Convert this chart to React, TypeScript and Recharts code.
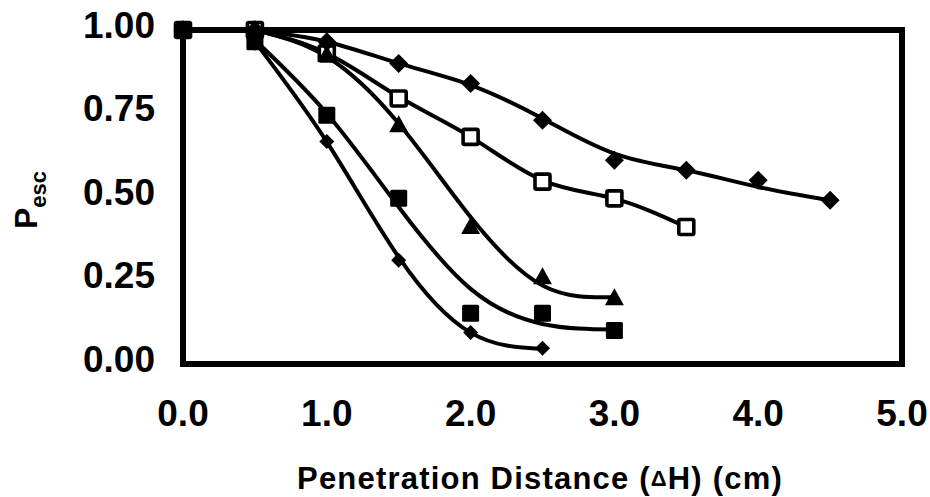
import React from "react";
import { ComposedChart, Line, Scatter, XAxis, YAxis, ReferenceArea } from "recharts";

// measured points, x in cm
const xPts = [0, 0.5, 1, 1.5, 2, 2.5, 3, 3.5, 4, 4.5];
const ptsA = [1.0, 1.0, 0.965, 0.9, 0.84, 0.73, 0.61, 0.58, 0.55, 0.49];
const ptsB = [1.0, 1.0, 0.93, 0.795, 0.68, 0.546, 0.496, 0.41];
const ptsC = [1.0, 1.0, 0.925, 0.715, 0.41, 0.26, 0.197];
const ptsD = [1.0, 0.965, 0.745, 0.496, 0.152, 0.152, 0.1];
const ptsE = [1.0, 0.96, 0.666, 0.311, 0.094, 0.047];

// smoothed trend curves
const fitXA = [0.5, 1, 1.5, 2, 2.5, 3, 3.5, 4, 4.5];
const fitA = [1.0, 0.965, 0.9, 0.835, 0.735, 0.63, 0.58, 0.53, 0.49];
const fitXB = [0.5, 1, 1.5, 2, 2.5, 3, 3.5];
const fitB = [1.0, 0.93, 0.8, 0.68, 0.55, 0.495, 0.41];
const fitXC = [0.5, 1, 1.5, 2, 2.5, 3];
const fitC = [1.0, 0.92, 0.72, 0.44, 0.235, 0.2];
const fitXD = [0.5, 1, 1.5, 2, 2.5, 3];
const fitD = [0.97, 0.75, 0.47, 0.225, 0.12, 0.103];
const fitXE = [0.5, 1, 1.5, 2, 2.5];
const fitE = [0.965, 0.665, 0.32, 0.094, 0.045];

const xTicks = [0, 1, 2, 3, 4, 5];
const yTicks = [0, 0.25, 0.5, 0.75, 1];

const toRows = (xs: number[], ys: number[]) => ys.map((y, i) => ({ x: xs[i], y }));

const FONT = "'Liberation Sans', Arial, Helvetica, sans-serif";

const Diamond = ({ cx, cy, r }: any) => (
  <path d={`M${cx},${cy - r}L${cx + r},${cy}L${cx},${cy + r}L${cx - r},${cy}Z`} fill="#000" />
);
const Square = ({ cx, cy, s, open }: any) => (
  <rect
    x={cx - s / 2}
    y={cy - s / 2}
    width={s}
    height={s}
    rx={1.5}
    fill={open ? "#fff" : "#000"}
    stroke="#000"
    strokeWidth={open ? 3.6 : 0}
  />
);
const Triangle = ({ cx, cy }: any) => (
  <path d={`M${cx},${cy - 10}L${cx + 9.5},${cy + 7}L${cx - 9.5},${cy + 7}Z`} fill="#000" />
);

const YTick = ({ x, y, payload }: any) => (
  <text x={x} y={y - 5} textAnchor="end" dominantBaseline="central" fontFamily={FONT} fontWeight="bold" fontSize={37} fill="#000">
    {payload.value.toFixed(2)}
  </text>
);
const XTick = ({ x, payload }: any) => (
  <text x={x} y={413} textAnchor="middle" dominantBaseline="central" fontFamily={FONT} fontWeight="bold" fontSize={37} fill="#000">
    {payload.value.toFixed(1)}
  </text>
);

const XTitle = () => (
  <text x={540} y={478} textAnchor="middle" dominantBaseline="central" fontFamily={FONT} fontWeight="bold" fontSize={31} letterSpacing={1.2} fill="#000">
    Penetration Distance (<tspan fontSize={22}>Δ</tspan>H) (cm)
  </text>
);
const YTitle = () => (
  <text x={37} y={200} transform="rotate(-90, 37, 200)" textAnchor="middle" fontFamily={FONT} fontWeight="bold" fontSize={32} fill="#000">
    P<tspan fontSize={22} dy={9}>esc</tspan>
  </text>
);

const LINE = { stroke: "#000", strokeWidth: 4, dot: false, type: "natural" as const, isAnimationActive: false, activeDot: false };

export default function App() {
  return (
    <div style={{ position: "absolute", left: 0, top: 0, background: "#fff" }}>
      <ComposedChart width={930} height={497} margin={{ top: 30, right: 28, bottom: 0, left: 0 }}>
        <XAxis
          type="number"
          dataKey="x"
          domain={[0, 5]}
          ticks={xTicks}
          axisLine={false}
          tickLine={false}
          tickSize={0}
          height={133}
          tick={<XTick />}
          label={<XTitle />}
        />
        <YAxis
          type="number"
          dataKey="y"
          domain={[0, 1]}
          ticks={yTicks}
          axisLine={false}
          tickLine={false}
          tickSize={0}
          tickMargin={28}
          width={183}
          tick={<YTick />}
          label={<YTitle />}
        />
        <ReferenceArea x1={0} x2={5} y1={0} y2={1} fill="none" stroke="#000" strokeWidth={6} />
        <Line data={toRows(fitXA, fitA)} dataKey="y" {...LINE} />
        <Line data={toRows(fitXB, fitB)} dataKey="y" {...LINE} />
        <Line data={toRows(fitXC, fitC)} dataKey="y" {...LINE} />
        <Line data={toRows(fitXD, fitD)} dataKey="y" {...LINE} />
        <Line data={toRows(fitXE, fitE)} dataKey="y" {...LINE} />
        <Scatter data={toRows(xPts, ptsB)} dataKey="y" isAnimationActive={false} shape={(p: any) => <Square cx={p.cx} cy={p.cy} s={15} open />} />
        <Scatter data={toRows(xPts, ptsA)} dataKey="y" isAnimationActive={false} shape={(p: any) => <Diamond cx={p.cx} cy={p.cy} r={9.5} />} />
        <Scatter data={toRows(xPts, ptsC)} dataKey="y" isAnimationActive={false} shape={(p: any) => <Triangle cx={p.cx} cy={p.cy} />} />
        <Scatter data={toRows(xPts, ptsD)} dataKey="y" isAnimationActive={false} shape={(p: any) => <Square cx={p.cx} cy={p.cy} s={17} />} />
        <Scatter data={toRows(xPts, ptsE)} dataKey="y" isAnimationActive={false} shape={(p: any) => <Diamond cx={p.cx} cy={p.cy} r={7.5} />} />
      </ComposedChart>
    </div>
  );
}
